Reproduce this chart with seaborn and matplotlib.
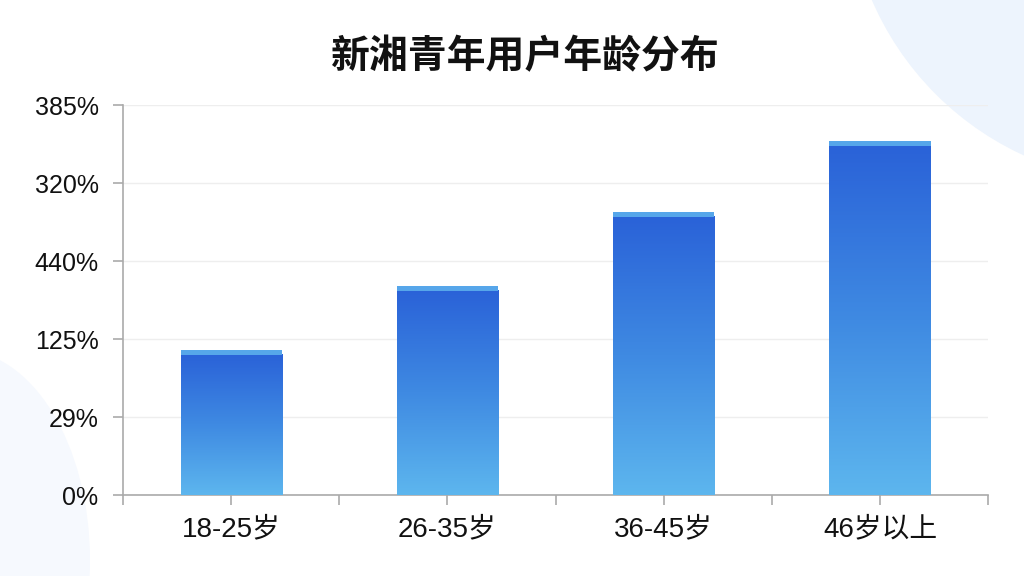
import numpy as np
import pandas as pd
import matplotlib
matplotlib.use("Agg")
import matplotlib.pyplot as plt
import seaborn as sns
from matplotlib.patches import Circle, Ellipse
from matplotlib.colors import LinearSegmentedColormap

# 数据（按图读取，坐标刻度 0..50 对应 6 个刻度标签）
age_groups = ["18-25岁", "26-35岁", "36-45岁", "46岁以上"]
shares = [18.6, 26.8, 36.3, 45.4]
tick_values = [0, 10, 20, 30, 40, 50]
tick_labels = ["0%", "29%", "125%", "440%", "320%", "385%"]
title = "新湘青年用户年龄分布"

sns.set_style("white")
plt.rcParams["font.family"] = ["Liberation Sans", "Noto Sans CJK SC", "DejaVu Sans"]

fig = plt.figure(figsize=(10.24, 5.76), dpi=100, facecolor="white")

# 背景装饰
bg = fig.add_axes([0, 0, 1, 1], zorder=-10)
bg.set_xlim(0, 1024)
bg.set_ylim(576, 0)
bg.axis("off")
bg.add_patch(Circle((1150, -120), 303, color="#edf4fd", lw=0))
bg.add_patch(Ellipse((-40, 560), 260, 420, color="#f6f9fe", lw=0))

ax = fig.add_axes([0.120, 0.1406, 0.845, 0.6771])
ax.set_facecolor("none")

df = pd.DataFrame({"group": age_groups, "share": shares})
sns.barplot(data=df, x="group", y="share", color="#3a7ee0", width=0.467,
            ax=ax, zorder=3, linewidth=0)

ax.set_xlim(-0.5, 3.5)
ax.set_ylim(0, 50)

# 渐变填充
cmap = LinearSegmentedColormap.from_list("blu", ["#2a62d8", "#3f8ae2", "#5db6ee"])
grad = np.linspace(0, 1, 256).reshape(-1, 1)
cap_h = 0.6
for p in list(ax.patches):
    x0, w, h = p.get_x(), p.get_width(), p.get_height()
    p.set_facecolor("none")
    p.set_edgecolor("none")
    im = ax.imshow(grad, cmap=cmap, aspect="auto", extent=[x0, x0 + w, 0, h - cap_h + 0.05],
                   origin="upper", zorder=3)
    im.set_clip_path(p)
    ax.bar(x0 + w / 2, cap_h, width=w, bottom=h - cap_h, color="#56a6ea",
           edgecolor="none", linewidth=0, zorder=4)

ax.set_yticks(tick_values)
ax.set_yticklabels(tick_labels, fontsize=18, color="#111111")
ax.set_xticks(range(len(age_groups)))
ax.set_xticklabels(age_groups, fontsize=20, color="#111111")
ax.set_xticks(np.arange(-0.5, 4, 1), minor=True)
ax.tick_params(axis="both", which="both", length=7.5, width=1.2, color="#aaaaaa",
               bottom=True, left=True)
ax.tick_params(axis="x", which="major", pad=8)
ax.tick_params(axis="y", pad=10)
ax.set_xlabel("")
ax.set_ylabel("")

ax.grid(axis="y", color="#eeeeee", lw=1, zorder=0)
for side in ["top", "right"]:
    ax.spines[side].set_visible(False)
for side in ["left", "bottom"]:
    ax.spines[side].set_color("#aaaaaa")
    ax.spines[side].set_linewidth(1.2)

fig.text(0.513, 0.902, title, ha="center", va="center", fontsize=28,
         fontweight="bold", color="#111111", family=["Noto Sans CJK SC"])

fig.savefig("out.png", dpi=100, facecolor="white")
